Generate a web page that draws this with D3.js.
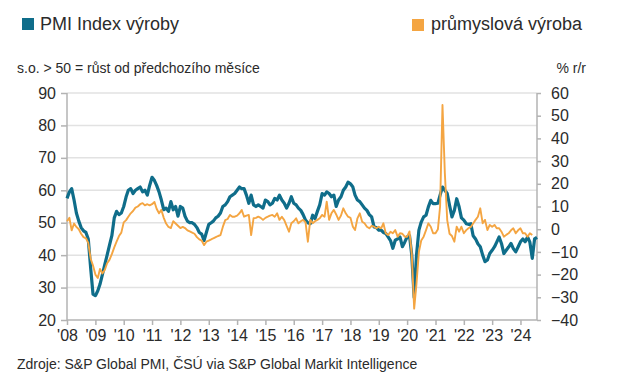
<!DOCTYPE html>
<head>
  <meta charset="utf-8" />
  <script src="https://d3js.org/d3.v7.min.js"></script>
  <style>
    body {
      margin: 0;
      background: white;
    }
    text {
      font-family: "Liberation Sans", Arial, sans-serif;
      fill: #2b2b2b;
    }
  </style>
</head>

<body>
  <script>
    var width = 618,
      height = 379;

    // PMI index of output, monthly, Jan 2008 - Aug 2024
    var pmi = [
      57.5, 59.5, 60.5, 57, 53, 50.5, 48.5, 47.5, 47, 45, 36, 28,
      27.5, 29, 31, 34, 37, 40, 43, 46, 51.5, 53.5, 52.5, 53,
      55, 58, 60, 60.5, 59, 60, 60.5, 61, 59.5, 60, 58.5, 61.5,
      64, 63, 61.5, 59.5, 57, 54, 54.5, 53.5, 56.5, 54, 55, 52,
      55, 54.5, 52, 50.5, 50, 50, 49.5, 48.5, 47, 46.5, 44.5, 47,
      49.5, 50, 50.5, 51.5, 52, 53, 55, 55.5, 56.5, 58, 58.5, 59,
      60, 61, 60.5, 60.5, 58.5, 56, 58.5, 55.5, 55, 55.5, 55, 54.5,
      57, 56.5, 55.5, 56, 57.5, 57, 58.5, 57, 56, 54.5, 56, 58,
      56, 55.5, 54.5, 53.8, 52.5, 50.8, 50, 49.7, 52.3, 51.3, 53.5, 55.5,
      59, 58.5, 59.5, 59, 58, 58.5, 55, 57, 58, 60, 61, 62.5,
      62, 61, 58.5, 57, 56.5, 55.5, 54.5, 53.8, 52.5, 51.8, 48.7, 48.5,
      47.7, 47.7, 47, 46.7, 45.6, 44.5, 42.1, 44.6, 45, 45.6, 42.6, 44,
      45.6, 46, 40, 27, 40, 47.7, 50.2, 51.8, 52.3, 54.9, 56.9, 55.9,
      55.9, 56, 58.5, 61, 60, 59, 55.4, 51.8, 53.8, 57.4, 54.9, 51.5,
      50.8, 49.7, 49.5, 49.7, 46, 45, 43.5, 42.6, 40, 38, 38.5, 40.5,
      41.5, 42.6, 44, 45.6, 43.6, 40.5, 41.5, 42.5, 43.6, 42, 41, 42.5,
      44.1, 45, 44.1, 45.6, 44, 39, 45, 45.5
    ];

    // prumyslova vyroba, % r/r, Jan 2008 - Jun 2024
    var vyroba = [
      3.5, 5, -0.5, 2.5, 1, 0, -2, -3.5, -4, -6, -13, -16,
      -20, -21.5, -17.5, -19.5, -18, -15, -13.5, -11, -8, -5.5, -3, -1.5,
      3, 4, 5.5, 7, 8, 9.5, 10, 11, 11.5, 10.5, 11, 10.5,
      11, 12, 9, 7, 8.5, 5, 2.5, 1, 0.5, 3.5, 2.5, 1.5,
      0.5, 1, 0.5, -0.5, -1, -1.5, -2, -3.5, -4.5, -5, -7, -5.5,
      -5, -4.5, -4, -3.5, -3, -2.6, 1, 4, 4.5, 6.3, 5.5, 5.5,
      6, 7, 8.5, 5.5, 6, 6.3, -2.6, 4.8, 5, 5.5, 5, 4.1,
      5, 5.5, 6, 6.3, 5.5, 7, 4.1, 5.5, 4, 1.5, -1.1, 2.6,
      3.5, 4.8, 2.6, 3.5, 4.1, 3, -5.5, 4.1, 2.6, 3.5, 4.1, 4.8,
      6.3, 5.5, 12.1, 4.1, 7, 8.5, 6.5, 4.1, 6, 9.2, 7, 5.5,
      5, 1.1, -0.4, 4.8, 7, 3.3, 2.6, 1.1, 0.4, 1.5, 1.1, 0.4,
      1.1, 0.4, 2.6, -1.8, -2.6, -1.1, -1.8, -0.4, -3.3, -1.8, -2, -3.3,
      -3.3, -1, -11, -35, -24, -10, -5, -3.3, -0.4, 2.6, 1.1, -1.8,
      -1.8, 0, 10, 54.7, 25, 4, -2, -3, -5.5, 1.1, -1.1, 1.1,
      -1.8, -0.4, 0.4, 1, 2.5, 4.1, 5.5, 9.2, 2.6, 4.1, -0.4, 1.9,
      1.1, 1.9, 0.4, 0.4, -1.1, -3.3, -2.5, -1.8, -0.5, 0.4, -1.8, -0.5,
      0.4, -1.8, -1.8, -3.3, -1.8, -2.6
    ];

    var leftTicks = [20, 30, 40, 50, 60, 70, 80, 90];
    var rightTicks = [-40, -30, -20, -10, 0, 10, 20, 30, 40, 50, 60];
    var years = d3.range(2008, 2025);

    var teal = "#0f6d8a",
      orange = "#f4a542";

    var svg = d3
      .select("body")
      .append("svg")
      .attr("width", width)
      .attr("height", height);

    var month = (i) => new Date(2008, i, 1);

    var x = d3
      .scaleTime()
      .domain([new Date(2008, 0, 1), new Date(2024, 7, 1)])
      .range([67, 537]);
    var yL = d3.scaleLinear().domain([20, 90]).range([320, 93]);
    var yR = d3.scaleLinear().domain([-40, 60]).range([320, 93]);

    // mrizka
    svg
      .append("g")
      .selectAll("line")
      .data(leftTicks.slice(1))
      .join("line")
      .attr("x1", 67)
      .attr("x2", 537)
      .attr("y1", (d) => yL(d))
      .attr("y2", (d) => yL(d))
      .attr("stroke", "#e2e2e2")
      .attr("stroke-width", 1.5);

    // osy
    var left = svg
      .append("g")
      .attr("transform", "translate(67,0)")
      .call(d3.axisLeft(yL).tickValues(leftTicks).tickSize(6).tickPadding(5));
    var right = svg
      .append("g")
      .attr("transform", "translate(537,0)")
      .call(d3.axisRight(yR).tickValues(rightTicks).tickSize(4).tickPadding(10));
    var bottom = svg
      .append("g")
      .attr("transform", "translate(0,320)")
      .call(
        d3
          .axisBottom(x)
          .tickValues(years.map((y) => new Date(y, 0, 1)))
          .tickFormat((d) => "'" + d3.timeFormat("%y")(d))
          .tickSize(5)
          .tickPadding(5)
      );

    [left, right, bottom].forEach(function (ax) {
      ax.select(".domain").attr("stroke", "#b3b3b3").attr("stroke-width", 1.5);
      ax.selectAll(".tick line").attr("stroke", "#b3b3b3").attr("stroke-width", 1.5);
      ax.selectAll(".tick text")
        .style("font-family", "Liberation Sans, Arial, sans-serif")
        .style("font-size", "16px")
        .attr("fill", "#2b2b2b");
    });
    left.select(".domain").attr("d", "M0,320V93");
    right.select(".domain").attr("d", "M0,320V93");
    bottom.select(".domain").attr("d", "M67,0H537");

    // linie
    var linePmi = d3
      .line()
      .x((d, i) => x(month(i)))
      .y((d) => yL(d));
    var lineVyroba = d3
      .line()
      .x((d, i) => x(month(i)))
      .y((d) => yR(d));

    svg
      .append("path")
      .datum(pmi)
      .attr("d", linePmi)
      .attr("fill", "none")
      .attr("stroke", teal)
      .attr("stroke-width", 3.2)
      .attr("stroke-linejoin", "round");
    svg
      .append("path")
      .datum(vyroba)
      .attr("d", lineVyroba)
      .attr("fill", "none")
      .attr("stroke", orange)
      .attr("stroke-width", 1.9)
      .attr("stroke-linejoin", "round");

    // legenda a popisky
    svg.append("rect").attr("x", 22).attr("y", 18).attr("width", 12).attr("height", 12).attr("fill", teal);
    svg.append("text").attr("x", 40).attr("y", 30).style("font-size", "18px").text("PMI Index výroby");
    svg.append("rect").attr("x", 412).attr("y", 19).attr("width", 12).attr("height", 12).attr("fill", orange);
    svg.append("text").attr("x", 431).attr("y", 30).style("font-size", "18px").text("průmyslová výroba");

    svg.append("text").attr("x", 17).attr("y", 73).style("font-size", "14px")
      .text("s.o. > 50 = růst od předchozího měsíce");
    svg.append("text").attr("x", 586).attr("y", 73).attr("text-anchor", "end").style("font-size", "14px")
      .text("% r/r");
    svg.append("text").attr("x", 17).attr("y", 369).style("font-size", "14px")
      .text("Zdroje: S&P Global PMI, ČSÚ via S&P Global Markit Intelligence");
  </script>
</body>
